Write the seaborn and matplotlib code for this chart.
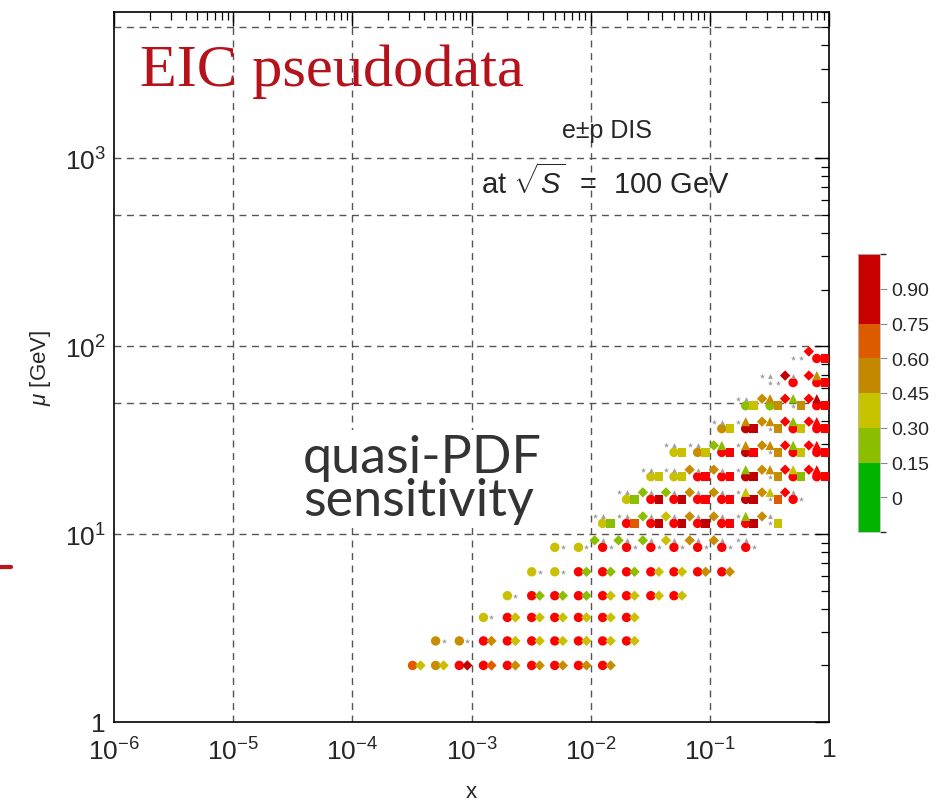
import numpy as np
import pandas as pd
import matplotlib
matplotlib.use("Agg")
import matplotlib.pyplot as plt
import matplotlib.transforms as mtransforms
from matplotlib.colors import ListedColormap, BoundaryNorm
from matplotlib.lines import Line2D
from matplotlib import font_manager
import seaborn as sns

# ---------------- data ----------------
X_BINS = [3.2e-4, 5.0e-4, 7.9e-4, 1.26e-3, 2.0e-3, 3.2e-3, 5.0e-3, 7.9e-3,
          1.26e-2, 2.0e-2, 3.2e-2, 5.0e-2, 7.9e-2, 0.126, 0.20, 0.32, 0.50, 0.79]
MU_ROWS = [2.0, 2.7, 3.6, 4.7, 6.3, 8.5, 11.4, 15.3, 20.2, 27.2, 36.4, 48.2, 64.0, 86.0]

# one character per x bin: '.' no point, '*' below threshold (grey), letter = sensitivity class
CIRCLES = [
    "OCRRRRRRR.........",
    ".CCRRRRRRR........",
    "...YRRRRRR........",
    "....YRRRRRRR......",
    ".....YYRRRRRRR....",
    "......YYRRRRRRR...",
    "........YRRRRRR*..",
    ".........YRRRRD*R.",
    "..........YYRRD*RR",
    "...........YCRD*RR",
    ".............CD*RR",
    "..............GG*R",
    "...............*RR",
    "................*R",
]
DIAMONDS_RIGHT = [
    "YYDOCCCCC.........",
    ".**CYYYYYY........",
    "...*YYYYYY........",
    "....*GGGYYYY......",
    ".....**GGGYYCC....",
    "..................",
    "..................",
    "..................",
    "..................",
    "..................",
    "..................",
    "..................",
    "..................",
    "..................",
]
SQUARES = [
    "..................",
    "..................",
    "..................",
    "..................",
    "..................",
    "......*********...",
    "........GODDDRDY..",
    ".........GDDRRDO*.",
    "..........YYRRDCGR",
    "...........YYRRCYR",
    ".............YDCYR",
    "..............YCCR",
    "...............*.R",
    "................*R",
]
DIAMONDS_UP = [
    "..................",
    "..................",
    "..................",
    "..................",
    "..................",
    "........GGGYCC*...",
    "........**GYCC*C..",
    ".........*GGCC*CR.",
    "..........**CC*CRR",
    "...........**G*CRR",
    ".............**CRR",
    "..............*CRR",
    "...............*DR",
    ".................R",
]
TRIANGLES = [
    "..................",
    "..................",
    "..................",
    "..................",
    "..................",
    "........*******...",
    "........******G*..",
    ".........*****YY*.",
    "..........****GCYR",
    "...........**GCCGR",
    ".............*CCGR",
    "..............*CGD",
    "...............**C",
    "..................",
]
LEVEL_VALUES = {"G": 0.22, "Y": 0.38, "C": 0.52, "O": 0.68, "D": 0.82, "R": 0.97}

CBAR_BOUNDS = [-0.15, 0.15, 0.30, 0.45, 0.60, 0.75, 1.05]
CBAR_TICKS = [0.0, 0.15, 0.30, 0.45, 0.60, 0.75, 0.90]
CBAR_TICK_LABELS = ["0", "0.15", "0.30", "0.45", "0.60", "0.75", "0.90"]

X_TICKS = [1e-6, 1e-5, 1e-4, 1e-3, 1e-2, 1e-1, 1.0]
X_TICK_LABELS = [r"$10^{-6}$", r"$10^{-5}$", r"$10^{-4}$", r"$10^{-3}$",
                 r"$10^{-2}$", r"$10^{-1}$", "1"]
Y_TICKS = [1, 10, 100, 1000]
Y_TICK_LABELS = ["1", r"$10^{1}$", r"$10^{2}$", r"$10^{3}$"]
Y_GRID = [10, 50, 100, 500, 1000, 5000]

# ---------------- style ----------------
available = {f.name for f in font_manager.fontManager.ttflist}
sans = "Liberation Sans" if "Liberation Sans" in available else "DejaVu Sans"
serif = "Liberation Serif" if "Liberation Serif" in available else "DejaVu Serif"
lato = "Lato" if "Lato" in available else sans

sns.set_theme(style="white")
plt.rcParams["font.family"] = [sans, "DejaVu Sans"]
plt.rcParams["mathtext.fontset"] = "custom"
plt.rcParams["mathtext.rm"] = sans
plt.rcParams["mathtext.it"] = sans + ":italic"
plt.rcParams["mathtext.default"] = "regular"

MARKER_COLORS = {"G": "#8cbe00", "Y": "#c8c000", "C": "#c88c00",
                 "O": "#e05a00", "D": "#c00000", "R": "#ff0000"}
CBAR_COLORS = ["#00b400", "#8cbe00", "#c8c300", "#c38700", "#dc5a00", "#c80000"]
GREY = "#a0a0a0"


def to_long(rows):
    recs = []
    for mu, row in zip(MU_ROWS, rows):
        for x, code in zip(X_BINS, row):
            if code == ".":
                continue
            recs.append({"x": x, "mu": mu, "code": code,
                         "value": LEVEL_VALUES.get(code, np.nan)})
    return pd.DataFrame(recs, columns=["x", "mu", "code", "value"])


W, H = 938, 804
fig = plt.figure(figsize=(W / 100, H / 100), dpi=100)
ax = fig.add_axes([114 / W, 1 - 723 / H, (829 - 114) / W, (723 - 13) / H])

# grid
for xv in X_TICKS[1:-1]:
    ax.axvline(xv, color="#555555", lw=1.0, ls=(0, (5, 4)), zorder=0.5)
for yv in Y_GRID:
    ax.axhline(yv, color="#555555", lw=1.0, ls=(0, (5, 4)), zorder=0.5)

PX = 0.72  # points per pixel at dpi 100


def offset(dx_px, dy_px):
    return ax.transData + mtransforms.ScaledTranslation(dx_px * PX / 72, dy_px * PX / 72,
                                                        fig.dpi_scale_trans)


sets = [
    (CIRCLES, "o", 46, (0, 0), "*"),
    (DIAMONDS_RIGHT, "D", 28, (8, 0), "*"),
    (SQUARES, "s", 38, (8, 0), "*"),
    (DIAMONDS_UP, "D", 28, (-8, 7), "*"),
    (TRIANGLES, "^", 44, (0, 7), "^"),
]
for rows, marker, size, (dx, dy), grey_marker in sets:
    df = to_long(rows)
    tr = offset(dx, dy)
    sig = df[df["code"] != "*"]
    low = df[df["code"] == "*"]
    sns.scatterplot(data=sig, x="x", y="mu", hue="code", palette=MARKER_COLORS,
                    marker=marker, s=size, linewidth=0, legend=False, ax=ax,
                    transform=tr, zorder=3)
    if len(low):
        sns.scatterplot(data=low, x="x", y="mu", color=GREY, marker=grey_marker,
                        s=16 if grey_marker == "*" else 12, linewidth=0,
                        legend=False, ax=ax, transform=tr, zorder=3)

ax.set_xscale("log")
ax.set_yscale("log")
ax.set_xlim(1e-6, 1.0)
ax.set_ylim(1.0, 6000)
ax.set_xticks(X_TICKS)
ax.set_xticklabels(X_TICK_LABELS)
ax.set_yticks(Y_TICKS)
ax.set_yticklabels(Y_TICK_LABELS)
ax.tick_params(which="both", direction="in", top=True, right=True, color="black")
ax.tick_params(which="major", length=10, width=1.0, labelsize=19)
ax.tick_params(axis="x", which="major", pad=11)
ax.tick_params(axis="y", which="major", pad=6)
ax.tick_params(which="minor", length=6, width=0.9)
ax.xaxis.set_minor_locator(matplotlib.ticker.LogLocator(base=10, subs=np.arange(2, 10), numticks=20))
ax.yaxis.set_minor_locator(matplotlib.ticker.LogLocator(base=10, subs=np.arange(2, 10), numticks=20))
ax.xaxis.set_minor_formatter(matplotlib.ticker.NullFormatter())
ax.yaxis.set_minor_formatter(matplotlib.ticker.NullFormatter())
for sp in ax.spines.values():
    sp.set_color("black")
    sp.set_linewidth(1.2)
ax.grid(False)
ax.set_xlabel("x", fontsize=16, labelpad=12)
ax.set_ylabel(r"$\mathit{\mu}$ [GeV]", fontsize=16, labelpad=8)

# texts
fig.text(140 / W, 1 - 86 / H, "EIC pseudodata", family=[serif], fontsize=43.5,
         color="#b5121b", va="baseline", ha="left")
fig.text(607 / W, 1 - 138 / H, "e±p DIS", fontsize=18, ha="center", va="baseline")
fig.text(605 / W, 1 - 194 / H, r"at $\sqrt{\mathit{S}}$  =  100 GeV", fontsize=21,
         ha="center", va="baseline")
fig.text(303 / W, 1 - 516 / H, "quasi-PDF\nsensitivity", family=[lato], fontsize=37.5,
         color="#333333", ha="left", va="baseline", linespacing=0.9,
         bbox=dict(facecolor="white", edgecolor="none", pad=3), zorder=2)

# colorbar
cax = fig.add_axes([858 / W, 1 - 533 / H, 22 / W, (533 - 255) / H])
cmap = ListedColormap(CBAR_COLORS)
norm = BoundaryNorm(CBAR_BOUNDS, cmap.N)
sm = matplotlib.cm.ScalarMappable(norm=norm, cmap=cmap)
cb = fig.colorbar(sm, cax=cax, ticks=CBAR_TICKS, spacing="proportional")
cb.ax.set_yticklabels(CBAR_TICK_LABELS)
cb.ax.tick_params(labelsize=14, length=5, width=0.8, color="#888888", pad=3)
cb.outline.set_edgecolor("#bbbbbb")
cb.outline.set_linewidth(0.6)

# slide decoration
fig.add_artist(Line2D([0, 11 / W], [1 - 568 / H] * 2, color="#c0141c", lw=3,
                      transform=fig.transFigure))

fig.savefig("out.png", dpi=100)
